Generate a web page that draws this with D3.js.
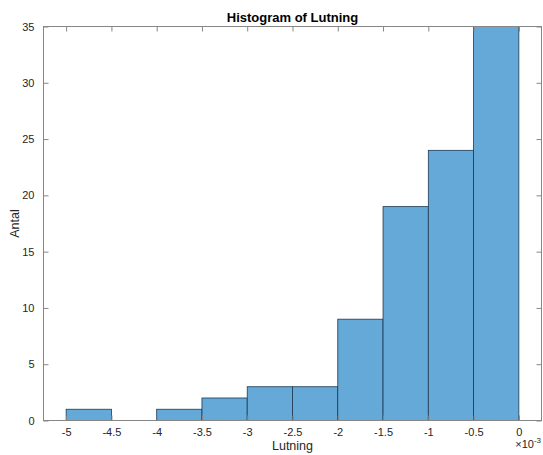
<!DOCTYPE html>
<html>
<head>
<meta charset="utf-8">
<script src="https://cdn.jsdelivr.net/npm/d3@7"></script>
<style>
  html, body { margin: 0; padding: 0; background: #fff; }
  svg { display: block; font-family: "Liberation Sans", Arial, Helvetica, sans-serif; }
</style>
</head>
<body>
<svg id="chart" width="543" height="455"></svg>
<script>
// Bin edges (×10^-3) and counts per bin
const binStarts = [-5, -4.5, -4, -3.5, -3, -2.5, -2, -1.5, -1, -0.5];
const binWidth = 0.5;
const counts = [1, 0, 1, 2, 3, 3, 9, 19, 24, 35];
const xTicks = [-5, -4.5, -4, -3.5, -3, -2.5, -2, -1.5, -1, -0.5, 0];
const yTicks = [0, 5, 10, 15, 20, 25, 30, 35];

const svg = d3.select("#chart");
const plotLeft = 43.5, plotRight = 541.5, plotTop = 26.5, plotBottom = 420.5;

const x = d3.scaleLinear().domain([-5.25, 0.25]).range([plotLeft, plotRight]);
const y = d3.scaleLinear().domain([0, 35]).range([plotBottom, plotTop]);

const axisColor = "#868686";
const textColor = "#262626";
// plain hyphen for negative numbers
const fmt = d => String(d);

// bars
svg.append("g").selectAll("rect")
  .data(binStarts.map((s, i) => ({ s, c: counts[i] })).filter(d => d.c > 0))
  .join("rect")
  .attr("x", d => x(d.s))
  .attr("width", d => x(d.s + binWidth) - x(d.s))
  .attr("y", d => y(d.c))
  .attr("height", d => y(0) - y(d.c))
  .attr("fill", "#64a9d8")
  .attr("stroke", "#1e3850")
  .attr("stroke-width", 0.8);

// axes box
function styleAxis(g) {
  g.select(".domain").remove();
  g.selectAll(".tick line").attr("stroke", axisColor);
  g.selectAll(".tick text").attr("fill", textColor).style("font-size", "11px");
}

svg.append("g").attr("transform", `translate(0,${plotBottom})`)
  .call(d3.axisBottom(x).tickValues(xTicks).tickSize(-5).tickPadding(8).tickFormat(fmt))
  .call(styleAxis);
svg.append("g").attr("transform", `translate(0,${plotTop})`)
  .call(d3.axisTop(x).tickValues(xTicks).tickSize(-5).tickFormat(""))
  .call(styleAxis);
svg.append("g").attr("transform", `translate(${plotLeft},0)`)
  .call(d3.axisLeft(y).tickValues(yTicks).tickSize(-5).tickPadding(9).tickFormat(fmt))
  .call(styleAxis);
svg.append("g").attr("transform", `translate(${plotRight},0)`)
  .call(d3.axisRight(y).tickValues(yTicks).tickSize(-5).tickFormat(""))
  .call(styleAxis);

svg.append("rect")
  .attr("x", plotLeft).attr("y", plotTop)
  .attr("width", plotRight - plotLeft).attr("height", plotBottom - plotTop)
  .attr("fill", "none").attr("stroke", axisColor).attr("stroke-width", 1);

// title and labels
svg.append("text")
  .attr("x", (plotLeft + plotRight) / 2).attr("y", 22)
  .attr("text-anchor", "middle")
  .style("font-size", "13px").style("font-weight", "bold")
  .attr("fill", "#000")
  .text("Histogram of Lutning");

svg.append("text")
  .attr("x", (plotLeft + plotRight) / 2).attr("y", 450)
  .attr("text-anchor", "middle")
  .style("font-size", "12.5px")
  .attr("fill", textColor)
  .text("Lutning");

svg.append("text")
  .attr("transform", `translate(19,${(plotTop + plotBottom) / 2}) rotate(-90)`)
  .attr("text-anchor", "middle")
  .style("font-size", "12.5px")
  .attr("fill", textColor)
  .text("Antal");

// exponent multiplier
const mult = svg.append("text")
  .attr("x", 541).attr("y", 448)
  .attr("text-anchor", "end")
  .attr("fill", textColor)
  .style("font-size", "11px");
mult.append("tspan").text("×10");
mult.append("tspan").attr("dy", -5).style("font-size", "8px").text("-3");
</script>
</body>
</html>
